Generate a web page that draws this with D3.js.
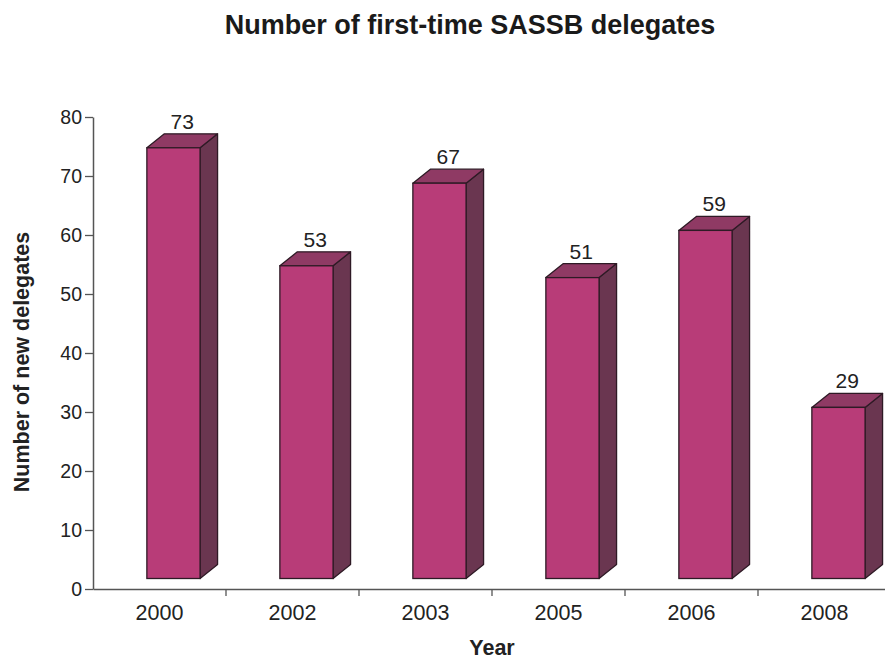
<!DOCTYPE html>
<html>
<head>
<meta charset="utf-8">
<script src="https://cdn.jsdelivr.net/npm/d3@7"></script>
<style>
  body { margin: 0; background: #fff; }
  text { font-family: "Liberation Sans", Arial, sans-serif; fill: #222; }
</style>
</head>
<body>
<svg id="chart" width="885" height="662"></svg>
<script>
const years = ["2000", "2002", "2003", "2005", "2006", "2008"];
const delegates = [73, 53, 67, 51, 59, 29];
const yTicks = [0, 10, 20, 30, 40, 50, 60, 70, 80];

const size = { width: 885, height: 662, left: 93, right: 891, top: 117, bottom: 589 };
const depth = { dx: 17.5, dy: -14, lift: 10.5 };
const colors = { front: "#b83c78", side: "#6a3650", top: "#8f3a64", edge: "#2e1a25" };

const svg = d3.select("#chart");

const x = d3.scaleBand().domain(years).range([size.left, size.right]);
const y = d3.scaleLinear().domain([0, 80]).range([size.bottom, size.top]);

// title
svg.append("text")
  .attr("x", 470).attr("y", 34)
  .attr("text-anchor", "middle")
  .style("font-size", "27px").style("font-weight", "bold").style("fill", "#1a1a1a")
  .text("Number of first-time SASSB delegates");

// bars (3d look)
const bw = x.bandwidth() * 0.4;
const bars = svg.append("g").selectAll("g.bar")
  .data(delegates.map((v, i) => ({ year: years[i], value: v })))
  .enter().append("g").attr("class", "bar");

bars.each(function (d) {
  const g = d3.select(this);
  const x0 = x(d.year) + x.bandwidth() * 0.405;
  const x1 = x0 + bw;
  const yb = y(0) - depth.lift;
  const yt = yb - (y(0) - y(d.value));
  const { dx, dy } = depth;

  g.append("path")
    .attr("d", `M${x1},${yb}L${x1 + dx},${yb + dy}L${x1 + dx},${yt + dy}L${x1},${yt}Z`)
    .attr("fill", colors.side).attr("stroke", colors.edge).attr("stroke-width", 1.3)
    .attr("stroke-linejoin", "round");
  g.append("path")
    .attr("d", `M${x0},${yt}L${x0 + dx},${yt + dy}L${x1 + dx},${yt + dy}L${x1},${yt}Z`)
    .attr("fill", colors.top).attr("stroke", colors.edge).attr("stroke-width", 1.3)
    .attr("stroke-linejoin", "round");
  g.append("rect")
    .attr("x", x0).attr("y", yt)
    .attr("width", bw).attr("height", yb - yt)
    .attr("fill", colors.front).attr("stroke", colors.edge).attr("stroke-width", 1.3);
  g.append("text")
    .attr("x", (x0 + x1 + dx) / 2).attr("y", yt + dy - 5)
    .attr("text-anchor", "middle")
    .style("font-size", "21px")
    .text(d.value);
});

// y axis
const yAxis = svg.append("g")
  .attr("transform", `translate(${size.left},0)`)
  .call(d3.axisLeft(y).tickValues(yTicks).tickSize(8).tickPadding(3).tickSizeOuter(0));
yAxis.select(".domain").attr("stroke", "#555").attr("stroke-width", 1.5);
yAxis.selectAll(".tick line").attr("stroke", "#555").attr("stroke-width", 1.3);
yAxis.selectAll(".tick text").style("font-size", "19.5px").attr("fill", "#222")
  .attr("font-family", "Liberation Sans, Arial, sans-serif");

// x axis
const xAxis = svg.append("g")
  .attr("transform", `translate(0,${size.bottom})`)
  .call(d3.axisBottom(x).tickSize(0).tickPadding(16));
xAxis.select(".domain").attr("stroke", "#555").attr("stroke-width", 1.5);
xAxis.selectAll(".tick text").style("font-size", "21.5px").attr("fill", "#222")
  .attr("font-family", "Liberation Sans, Arial, sans-serif");
xAxis.selectAll("line.sep")
  .data(years.slice(1))
  .enter().append("line").attr("class", "sep")
  .attr("x1", d => x(d)).attr("x2", d => x(d))
  .attr("y1", 0).attr("y2", 7)
  .attr("stroke", "#555").attr("stroke-width", 1.3);

// axis titles
svg.append("text")
  .attr("x", 492).attr("y", 655)
  .attr("text-anchor", "middle")
  .style("font-size", "21.5px").style("font-weight", "bold")
  .text("Year");

svg.append("text")
  .attr("transform", `translate(29,362) rotate(-90)`)
  .attr("text-anchor", "middle")
  .style("font-size", "21.5px").style("font-weight", "bold")
  .text("Number of new delegates");
</script>
</body>
</html>
